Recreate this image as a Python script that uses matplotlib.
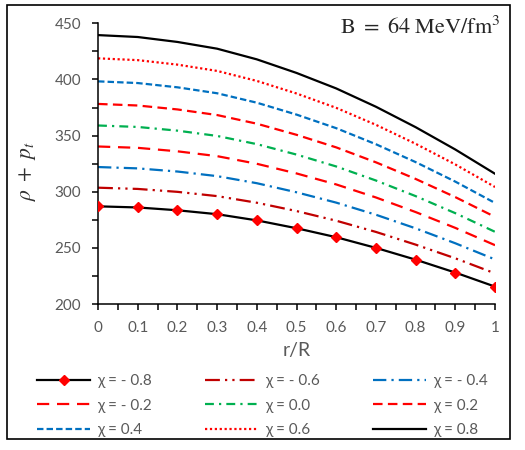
import matplotlib
matplotlib.use('Agg')
import matplotlib.pyplot as plt
from matplotlib.patches import Rectangle
from matplotlib.ticker import MultipleLocator

plt.rcParams['font.family'] = ['Lato', 'DejaVu Sans']
plt.rcParams['mathtext.fontset'] = 'stix'

r = [0, 0.1, 0.2, 0.3, 0.4, 0.5, 0.6, 0.7, 0.8, 0.9, 1.0]

chi_m08 = [287.0, 286.0, 283.5, 280.0, 274.5, 267.5, 259.5, 250.0, 239.5, 228.0, 215.5]
chi_m06 = [303.6, 302.5, 299.9, 296.1, 290.2, 282.8, 274.2, 264.2, 252.9, 240.7, 227.3]
chi_m04 = [322.0, 320.8, 318.0, 313.9, 307.6, 299.5, 290.3, 279.5, 267.4, 254.1, 239.7]
chi_m02 = [340.3, 339.1, 336.0, 331.7, 324.9, 316.3, 306.5, 294.9, 281.9, 267.8, 252.4]
chi_00 = [359.0, 357.7, 354.4, 349.7, 342.4, 333.1, 322.5, 310.0, 296.1, 280.9, 264.3]
chi_02 = [378.2, 376.8, 373.3, 368.3, 360.6, 350.7, 339.5, 326.2, 311.4, 295.2, 277.6]
chi_04 = [398.3, 396.8, 393.0, 387.7, 379.3, 368.7, 356.6, 342.3, 326.4, 309.0, 290.0]
chi_06 = [418.8, 417.2, 413.2, 407.6, 398.7, 387.5, 374.7, 359.6, 342.7, 324.3, 304.2]
chi_08 = [439.5, 437.8, 433.4, 427.4, 417.9, 405.8, 392.0, 375.7, 357.5, 337.6, 316.0]

labels = ['χ = - 0.8', 'χ = - 0.6', 'χ = - 0.4',
          'χ = - 0.2', 'χ = 0.0', 'χ = 0.2',
          'χ = 0.4', 'χ = 0.6', 'χ = 0.8']

series = [chi_m08, chi_m06, chi_m04, chi_m02, chi_00, chi_02, chi_04, chi_06, chi_08]

# (color, dash pattern in linewidth units or None for solid)
styles = [
    ('black', None),
    ('#C00000', (6.7, 2.3, 1, 2.3, 1, 2.3)),
    ('#0070C0', (6, 2.3, 1, 2.3)),
    ('#FF0000', (5.5, 3.5)),
    ('#00B050', (4, 2.3, 1, 2.3)),
    ('#FF0000', (4.3, 2.4)),
    ('#0070C0', (2.9, 1.4)),
    ('#FF0000', (1, 1.2)),
    ('black', None),
]

fig = plt.figure(figsize=(5.25, 4.5), dpi=100)
ax = fig.add_axes([0.1867, 0.3244, 0.9429 - 0.1867, 0.9482 - 0.3244])

handles = []
for i, (vals, lab) in enumerate(zip(series, labels)):
    color, dash = styles[i]
    if i == 0:
        line, = ax.plot(r, vals, color=color, lw=1.6, marker='D', markersize=5.5,
                        markerfacecolor='red', markeredgecolor='red', label=lab, zorder=3)
    else:
        line, = ax.plot(r, vals, color=color, lw=1.6, label=lab)
        if dash is not None:
            line.set_dashes(dash)
    handles.append(line)

ax.set_xlim(0, 1)
ax.set_ylim(200, 450)
ax.xaxis.set_major_locator(MultipleLocator(0.1))
ax.xaxis.set_minor_locator(MultipleLocator(0.05))
ax.yaxis.set_major_locator(MultipleLocator(50))
ax.yaxis.set_minor_locator(MultipleLocator(25))
ax.set_xticks([0, 0.1, 0.2, 0.3, 0.4, 0.5, 0.6, 0.7, 0.8, 0.9, 1.0])
ax.set_xticklabels(['0', '0.1', '0.2', '0.3', '0.4', '0.5', '0.6', '0.7', '0.8', '0.9', '1'])

for side in ['top', 'right']:
    ax.spines[side].set_visible(False)
for side in ['left', 'bottom']:
    ax.spines[side].set_linewidth(1.1)

ax.tick_params(which='both', direction='out', length=4.3, width=1.1, colors='black',
               labelcolor='#595959', labelsize=11)
ax.tick_params(axis='y', which='major', pad=8)
ax.tick_params(axis='x', which='major', pad=8)

ax.set_xlabel('r/R', fontsize=14, color='#595959', labelpad=5)
fig.text(28 / 525, 1 - 171 / 450, r'$\rho\ +\ p_t$', rotation=90, fontsize=15.5,
         color='#303030', ha='center', va='center')
fig.text(501 / 525, 1 - 27 / 450, r'$\mathrm{B\ =\ 64\ MeV/fm^3}$', fontsize=16,
         color='#262626', ha='right', va='center')

# legend fills column-wise, so reorder to get row-wise layout
order = [0, 3, 6, 1, 4, 7, 2, 5, 8]
fig.legend([handles[k] for k in order], [labels[k] for k in order],
           loc='upper left', bbox_to_anchor=(37 / 525, 1 - 374 / 450), ncol=3,
           frameon=False, fontsize=11, handlelength=3.5, handletextpad=0.45,
           columnspacing=3.45, labelspacing=0.7, borderpad=0, borderaxespad=0,
           labelcolor='#595959')

fig.add_artist(Rectangle((7 / 525, 1 - 439 / 450), 503 / 525, 434 / 450,
                         transform=fig.transFigure, fill=False, edgecolor='black', lw=1.2))

fig.savefig('out.png', dpi=100)
